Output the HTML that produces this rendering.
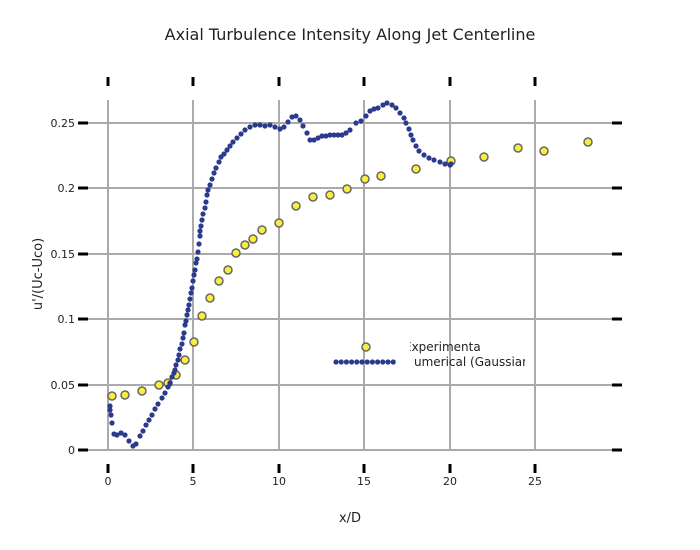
<!DOCTYPE html>
<html><head><meta charset="utf-8"><style>body{margin:0;background:#fff}svg{display:block}text{font-family:"DejaVu Sans","Liberation Sans",sans-serif;fill:#222}</style></head><body>
<svg width="700" height="550" viewBox="0 0 700 550">
<defs>
<clipPath id="c1"><rect x="410" y="335" width="71" height="20"/></clipPath>
<clipPath id="c2"><rect x="413" y="352" width="112" height="20"/></clipPath>
</defs>
<text x="350" y="40" font-size="16" text-anchor="middle">Axial Turbulence Intensity Along Jet Centerline</text>
<g stroke="#aaa" stroke-width="2">
<line x1="108" y1="100" x2="108" y2="450"/><line x1="193" y1="100" x2="193" y2="450"/><line x1="279" y1="100" x2="279" y2="450"/><line x1="364" y1="100" x2="364" y2="450"/><line x1="450" y1="100" x2="450" y2="450"/><line x1="535" y1="100" x2="535" y2="450"/>
<line x1="78" y1="450" x2="620" y2="450"/><line x1="78" y1="385" x2="620" y2="385"/><line x1="78" y1="319" x2="620" y2="319"/><line x1="78" y1="254" x2="620" y2="254"/><line x1="78" y1="188" x2="620" y2="188"/><line x1="78" y1="123" x2="620" y2="123"/>
</g>
<g stroke="#000" stroke-width="3">
<line x1="108" y1="77" x2="108" y2="86"/><line x1="193" y1="77" x2="193" y2="86"/><line x1="279" y1="77" x2="279" y2="86"/><line x1="364" y1="77" x2="364" y2="86"/><line x1="450" y1="77" x2="450" y2="86"/><line x1="535" y1="77" x2="535" y2="86"/>
<line x1="108" y1="464" x2="108" y2="473"/><line x1="193" y1="464" x2="193" y2="473"/><line x1="279" y1="464" x2="279" y2="473"/><line x1="364" y1="464" x2="364" y2="473"/><line x1="450" y1="464" x2="450" y2="473"/><line x1="535" y1="464" x2="535" y2="473"/>
<line x1="78" y1="450" x2="88" y2="450"/><line x1="78" y1="385" x2="88" y2="385"/><line x1="78" y1="319" x2="88" y2="319"/><line x1="78" y1="254" x2="88" y2="254"/><line x1="78" y1="188" x2="88" y2="188"/><line x1="78" y1="123" x2="88" y2="123"/>
<line x1="612" y1="450" x2="622" y2="450"/><line x1="612" y1="385" x2="622" y2="385"/><line x1="612" y1="319" x2="622" y2="319"/><line x1="612" y1="254" x2="622" y2="254"/><line x1="612" y1="188" x2="622" y2="188"/><line x1="612" y1="123" x2="622" y2="123"/>
</g>
<g font-size="11" text-anchor="middle">
<text x="108" y="485">0</text><text x="193" y="485">5</text><text x="279" y="485">10</text><text x="364" y="485">15</text><text x="450" y="485">20</text><text x="535" y="485">25</text>
</g>
<g font-size="11" text-anchor="end">
<text x="75" y="454">0</text><text x="75" y="389">0.05</text><text x="75" y="323">0.1</text><text x="75" y="258">0.15</text><text x="75" y="192">0.2</text><text x="75" y="127">0.25</text>
</g>
<text x="350" y="522" font-size="13" text-anchor="middle">x/D</text>
<text transform="translate(42,274) rotate(-90)" font-size="13" text-anchor="middle">u'/(Uc-Uco)</text>
<g fill="#fbee3a" stroke="#666" stroke-width="1.5" id="exp"></g>
<g fill="#2a3a8c" id="num"></g>
<circle cx="366" cy="347" r="4" fill="#fbee3a" stroke="#666" stroke-width="1.5"/>
<g fill="#2a3a8c" id="leg"></g>
<text x="404" y="351" font-size="12" clip-path="url(#c1)">Experimental</text>
<text x="405" y="366" font-size="12" clip-path="url(#c2)">Numerical (Gaussian)</text>
<script>
var ns="http://www.w3.org/2000/svg";
function add(g,pts,r){var e=document.getElementById(g);pts.forEach(function(p){var c=document.createElementNS(ns,"circle");c.setAttribute("cx",p[0]);c.setAttribute("cy",p[1]);c.setAttribute("r",r);e.appendChild(c);});}
add("num",[[110,406],[110,410],[111,415],[112,423],[114,434],[117,435],[121,433],[125,435],[129,441],[133,446],[136,444],[140,436],[143,431],[146,425],[149,420],[152,415],[155,409],[158,404],[162,398],[165,393],[168,387],[170,383],[172,377],[174,373],[175,370],[176,365],[178,360],[179,355],[180,349],[182,344],[183,338],[184,333],[185,325],[186,321],[187,315],[188,310],[189,305],[190,299],[191,293],[192,288],[193,281],[194,275],[195,270],[196,263],[197,259],[198,252],[199,244],[200,236],[200,231],[201,226],[202,220],[203,214],[205,208],[206,202],[207,195],[208,190],[210,185],[212,179],[214,173],[216,168],[219,162],[221,157],[224,154],[227,150],[230,146],[233,142],[237,138],[241,134],[245,130],[250,127],[255,125],[260,125],[265,126],[270,125],[275,127],[280,129],[284,127],[288,122],[292,117],[296,116],[300,120],[303,126],[307,133],[310,140],[314,140],[318,138],[322,136],[326,136],[330,135],[334,135],[338,135],[342,135],[346,133],[350,130],[356,123],[361,121],[366,116],[370,111],[374,109],[378,108],[383,105],[387,103],[392,105],[396,108],[400,113],[404,118],[406,123],[409,129],[411,135],[413,140],[416,146],[419,151],[424,155],[429,158],[434,160],[440,162],[445,164],[450,165],[451,164]],2.6);
add("exp",[[112,396],[125,395],[142,391],[159,385],[168,383],[176,375],[185,360],[194,342],[202,316],[210,298],[219,281],[228,270],[236,253],[245,245],[253,239],[262,230],[279,223],[296,206],[313,197],[330,195],[347,189],[365,179],[381,176],[416,169],[451,161],[484,157],[518,148],[544,151],[588,142]],4);
var l=[];for(var x=336;x<=398;x+=5.2)l.push([x,362]);add("leg",l,2.6);
</script>
</svg>
</body></html>
